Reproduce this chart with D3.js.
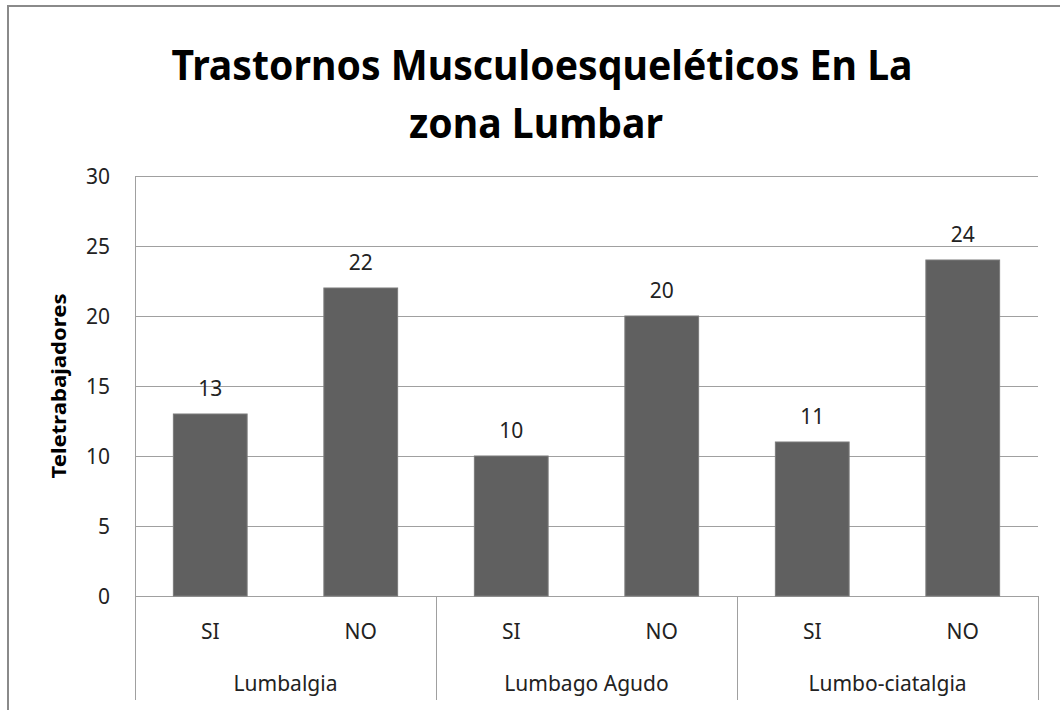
<!DOCTYPE html>
<html>
<head>
<meta charset="utf-8">
<script src="https://cdn.jsdelivr.net/npm/d3@7"></script>
<style>
body { margin: 0; background: #fff; }
svg { display: block; font-family: "Noto Sans", "Open Sans", sans-serif; }
</style>
</head>
<body>
<div id="chart"></div>
<script>
//////////////////////////////////////////////////////////////////////////////
// data

var groups = ["Lumbalgia", "Lumbago Agudo", "Lumbo-ciatalgia"];
var answers = ["SI", "NO"];
var values = [13, 22, 10, 20, 11, 24];
var yTicks = [0, 5, 10, 15, 20, 25, 30];
var titleLines = ["Trastornos Musculoesqueléticos En La", "zona Lumbar"];
var yTitle = "Teletrabajadores";

//////////////////////////////////////////////////////////////////////////////
// chart

var width = 1060, height = 710;
var plot = { left: 135, right: 1038, top: 176, bottom: 596, catBottom: 700 };

var svg = d3.select("#chart").append("svg")
    .attr("width", width)
    .attr("height", height);

var rows = [];
groups.forEach(function(g, i) {
    answers.forEach(function(a, j) {
        rows.push({ group: g, answer: a, value: values[i * answers.length + j] });
    });
});

var x0 = d3.scaleBand()
    .domain(groups)
    .range([plot.left, plot.right])
    .padding(0);

var x1 = d3.scaleBand()
    .domain(answers)
    .range([0, x0.bandwidth()])
    .paddingInner(0.51)
    .paddingOuter(0.255);

var y = d3.scaleLinear()
    .domain([0, 30])
    .range([plot.bottom, plot.top]);

// outer chart border (cut off at right and bottom)
svg.append("path")
    .attr("d", "M8," + height + "V6H" + width)
    .attr("fill", "none")
    .attr("stroke", "#8a8a8a")
    .attr("stroke-width", 2);

// gridlines
svg.append("g")
    .selectAll("line")
    .data(yTicks)
    .join("line")
    .attr("x1", plot.left)
    .attr("x2", plot.right)
    .attr("y1", function(d) { return Math.round(y(d)) + 0.5; })
    .attr("y2", function(d) { return Math.round(y(d)) + 0.5; })
    .attr("stroke", "#a0a0a0")
    .attr("stroke-width", 1);

// value axis line
svg.append("line")
    .attr("x1", plot.left + 0.5)
    .attr("x2", plot.left + 0.5)
    .attr("y1", plot.top)
    .attr("y2", plot.catBottom)
    .attr("stroke", "#a0a0a0");

// group separators on the category axis
var seps = groups.map(function(g) { return x0(g) + x0.bandwidth(); });
svg.append("g")
    .selectAll("line")
    .data(seps)
    .join("line")
    .attr("x1", function(d) { return Math.round(d) + 0.5; })
    .attr("x2", function(d) { return Math.round(d) + 0.5; })
    .attr("y1", plot.bottom)
    .attr("y2", plot.catBottom)
    .attr("stroke", "#a0a0a0");

// y tick labels
svg.append("g")
    .selectAll("text")
    .data(yTicks)
    .join("text")
    .attr("x", 110)
    .attr("y", function(d) { return y(d); })
    .attr("dy", "0.36em")
    .attr("text-anchor", "end")
    .attr("font-size", 21)
    .attr("fill", "#222")
    .text(function(d) { return d; });

// bars
svg.append("g")
    .selectAll("rect")
    .data(rows)
    .join("rect")
    .attr("x", function(d) { return x0(d.group) + x1(d.answer); })
    .attr("y", function(d) { return y(d.value); })
    .attr("width", x1.bandwidth())
    .attr("height", function(d) { return y(0) - y(d.value); })
    .attr("fill", "#606060")
    .attr("stroke", "#7a7a7a")
    .attr("stroke-width", 1);

// value labels
svg.append("g")
    .selectAll("text")
    .data(rows)
    .join("text")
    .attr("x", function(d) { return x0(d.group) + x1(d.answer) + x1.bandwidth() / 2; })
    .attr("y", function(d) { return y(d.value) - 18; })
    .attr("text-anchor", "middle")
    .attr("font-size", 21)
    .attr("fill", "#222")
    .text(function(d) { return d.value; });

// answer labels
svg.append("g")
    .selectAll("text")
    .data(rows)
    .join("text")
    .attr("x", function(d) { return x0(d.group) + x1(d.answer) + x1.bandwidth() / 2; })
    .attr("y", 639)
    .attr("text-anchor", "middle")
    .attr("font-size", 21)
    .attr("fill", "#222")
    .text(function(d) { return d.answer; });

// group labels
svg.append("g")
    .selectAll("text")
    .data(groups)
    .join("text")
    .attr("x", function(d) { return x0(d) + x0.bandwidth() / 2; })
    .attr("y", 691)
    .attr("text-anchor", "middle")
    .attr("font-size", 21)
    .attr("fill", "#222")
    .text(function(d) { return d; });

// y axis title
svg.append("text")
    .attr("transform", "translate(66,386) rotate(-90)")
    .attr("text-anchor", "middle")
    .attr("font-size", 20)
    .attr("font-weight", "bold")
    .attr("textLength", 185)
    .attr("lengthAdjust", "spacingAndGlyphs")
    .attr("fill", "#000")
    .text(yTitle);

// chart title
var titleSpecs = [
    { x: 542, y: 80, len: 741 },
    { x: 536, y: 138, len: 254 }
];
svg.append("g")
    .selectAll("text")
    .data(titleLines)
    .join("text")
    .attr("x", function(d, i) { return titleSpecs[i].x; })
    .attr("y", function(d, i) { return titleSpecs[i].y; })
    .attr("text-anchor", "middle")
    .attr("font-size", 42)
    .attr("font-weight", "bold")
    .attr("textLength", function(d, i) { return titleSpecs[i].len; })
    .attr("lengthAdjust", "spacingAndGlyphs")
    .attr("fill", "#000")
    .text(function(d) { return d; });
</script>
</body>
</html>
